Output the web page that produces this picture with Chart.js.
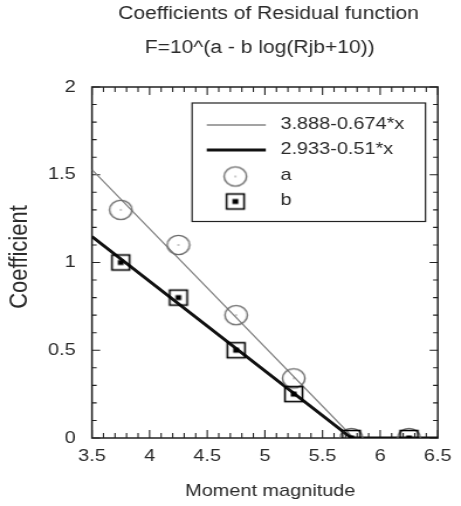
<!DOCTYPE html>
<html>
<head>
<meta charset="utf-8">
<script src="https://cdn.jsdelivr.net/npm/chart.js@4"></script>
<style>
  html, body { margin: 0; padding: 0; background: #fff; overflow: hidden; }
  /* plot is drawn narrow and widened horizontally, like the original export */
  #chart { display: block; transform: scaleX(1.17); transform-origin: 0 0; }
</style>
</head>
<body>
<canvas id="chart" width="394" height="506"></canvas>
<script>
/* Residual function coefficients a, b by magnitude bin, with linear fits */

const MAGNITUDES = [3.75, 4.25, 4.75, 5.25, 5.75, 6.25];
const COEF_A = [1.30, 1.10, 0.70, 0.34, 0, 0];
const COEF_B = [1.00, 0.80, 0.50, 0.25, 0, 0];

// fitted lines, floored at zero
const FIT_A_X = [3.5, 5.769, 6.5];
const FIT_A_Y = [1.529, 0, 0];
const FIT_B_X = [3.5, 5.751, 6.5];
const FIT_B_Y = [1.148, 0, 0];

const FIT_A_LABEL = '3.888-0.674*x';
const FIT_B_LABEL = '2.933-0.51*x';

const X_TICKS = [3.5, 4, 4.5, 5, 5.5, 6, 6.5];
const Y_TICKS = [0, 0.5, 1, 1.5, 2];

const TITLE = 'Coefficients of Residual function';
const SUBTITLE = 'F=10^(a - b log(Rjb+10))';
const X_TITLE = 'Moment magnitude';
const Y_TITLE = 'Coefficient';

const FONT = 'Liberation Sans, Arial, sans-serif';
const TEXT = '#2a2a2a';
const THIN = '#858585';

function pts(xs, ys) {
    return xs.map((x, i) => ({ x, y: ys[i] }));
}

function circleMarker() {
    const c = document.createElement('canvas');
    c.width = c.height = 24;
    const g = c.getContext('2d');
    g.strokeStyle = '#6a6a6a';
    g.lineWidth = 1.4;
    g.beginPath();
    g.arc(12, 12, 9.6, 0, Math.PI * 2);
    g.stroke();
    g.fillStyle = '#333';
    g.fillRect(11.5, 11.5, 1, 1);
    return c;
}

function squareMarker() {
    const c = document.createElement('canvas');
    c.width = c.height = 20;
    const g = c.getContext('2d');
    g.strokeStyle = '#000';
    g.lineWidth = 1.6;
    g.strokeRect(2.5, 2.5, 15, 15);
    g.fillStyle = '#000';
    g.fillRect(7.5, 7.5, 5, 5);
    return c;
}

const CIRCLE = circleMarker();
const SQUARE = squareMarker();

// box with inward ticks on all four sides
const framePlugin = {
    id: 'frame',
    beforeDatasetsDraw(chart) {
        const { ctx, chartArea: a, scales: { x, y } } = chart;
        ctx.save();
        ctx.strokeStyle = '#222';
        ctx.lineWidth = 1.5;
        ctx.strokeRect(a.left, a.top, a.right - a.left, a.bottom - a.top);
        ctx.lineWidth = 1.1;
        ctx.beginPath();
        for (let i = 0; i <= 30; i++) {
            const px = x.getPixelForValue(3.5 + i * 0.1);
            const len = i % 5 === 0 ? 8 : 5;
            ctx.moveTo(px, a.bottom); ctx.lineTo(px, a.bottom - len);
            ctx.moveTo(px, a.top); ctx.lineTo(px, a.top + len);
        }
        for (let i = 0; i <= 20; i++) {
            const py = y.getPixelForValue(i * 0.1);
            const len = i % 5 === 0 ? 7 : 4;
            ctx.moveTo(a.left, py); ctx.lineTo(a.left + len, py);
            ctx.moveTo(a.right, py); ctx.lineTo(a.right - len, py);
        }
        ctx.stroke();
        ctx.restore();
    },
};

// titles, axis titles and the boxed legend
const textPlugin = {
    id: 'texts',
    afterDraw(chart) {
        const { ctx, chartArea: a } = chart;
        ctx.save();
        ctx.fillStyle = TEXT;
        ctx.textAlign = 'center';
        ctx.textBaseline = 'middle';
        ctx.font = `18px ${FONT}`;
        ctx.fillText(TITLE, 229.5, 14);
        ctx.fillText(SUBTITLE, 222, 48);

        ctx.font = `17px ${FONT}`;
        ctx.fillText(X_TITLE, 231, 491);
        ctx.save();
        ctx.font = `22px ${FONT}`;
        ctx.translate(17, 257);
        ctx.rotate(-Math.PI / 2);
        ctx.fillText(Y_TITLE, 0, 0);
        ctx.restore();

        // legend
        const bx = a.right - 210, by = a.top + 16, bw = 199.5, bh = 118.5;
        ctx.strokeStyle = '#222';
        ctx.lineWidth = 1.2;
        ctx.strokeRect(bx, by, bw, bh);

        const sx0 = bx + 12.5, sx1 = bx + 63, mx = bx + 37, tx = bx + 75.5;
        const rows = [by + 22, by + 47, by + 73.5, by + 98.5];

        ctx.lineWidth = 1.3;
        ctx.strokeStyle = THIN;
        ctx.beginPath(); ctx.moveTo(sx0, rows[0]); ctx.lineTo(sx1, rows[0]); ctx.stroke();
        ctx.lineWidth = 3;
        ctx.strokeStyle = '#111';
        ctx.beginPath(); ctx.moveTo(sx0, rows[1]); ctx.lineTo(sx1, rows[1]); ctx.stroke();
        ctx.drawImage(CIRCLE, mx - 12, rows[2] - 12);
        ctx.drawImage(SQUARE, mx - 10, rows[3] - 10);

        ctx.textAlign = 'left';
        ctx.fillText(FIT_A_LABEL, tx, rows[0] - 1);
        ctx.fillText(FIT_B_LABEL, tx, rows[1] - 1);
        ctx.fillText('a', tx, rows[2] - 1);
        ctx.fillText('b', tx, rows[3] - 1);
        ctx.restore();
    },
};

const tickFont = { family: FONT, size: 17 };

const ctx = document.getElementById('chart').getContext('2d');
new Chart(ctx, {
    type: 'scatter',
    data: {
        datasets: [
            {
                label: 'b',
                data: pts(MAGNITUDES, COEF_B),
                pointStyle: SQUARE,
                pointRadius: 10,
                showLine: false,
            },
            {
                label: 'a',
                data: pts(MAGNITUDES, COEF_A),
                pointStyle: CIRCLE,
                pointRadius: 12,
                showLine: false,
            },
            {
                label: FIT_B_LABEL,
                data: pts(FIT_B_X, FIT_B_Y),
                showLine: true,
                borderColor: '#111',
                borderWidth: 3,
                pointRadius: 0,
            },
            {
                label: FIT_A_LABEL,
                data: pts(FIT_A_X, FIT_A_Y),
                showLine: true,
                borderColor: THIN,
                borderWidth: 1.3,
                pointRadius: 0,
            },
        ],
    },
    options: {
        responsive: false,
        devicePixelRatio: 1,
        animation: false,
        layout: { padding: { top: 87, right: 14.5, bottom: 0, left: 0 } },
        plugins: {
            legend: { display: false },
            tooltip: { enabled: false },
        },
        scales: {
            x: {
                type: 'linear',
                min: 3.5,
                max: 6.5,
                afterBuildTicks: s => { s.ticks = X_TICKS.map(v => ({ value: v })); },
                afterFit: s => { s.height = 68; },
                grid: { display: false, drawTicks: false },
                border: { display: false },
                ticks: { color: TEXT, font: tickFont, padding: 8, maxRotation: 0, callback: v => `${v}` },
            },
            y: {
                min: 0,
                max: 2,
                afterBuildTicks: s => { s.ticks = Y_TICKS.map(v => ({ value: v })); },
                afterFit: s => { s.width = 78.6; },
                grid: { display: false, drawTicks: false },
                border: { display: false },
                ticks: { color: TEXT, font: tickFont, padding: 14, callback: v => `${v}` },
            },
        },
    },
    plugins: [framePlugin, textPlugin],
});
</script>
</body>
</html>
